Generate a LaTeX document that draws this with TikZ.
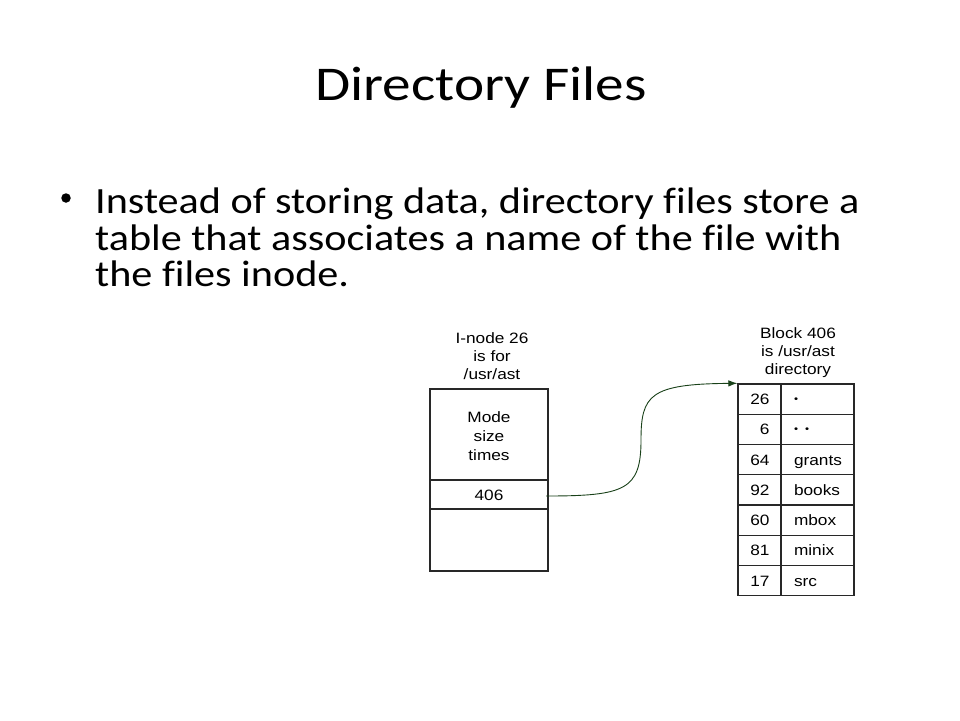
\documentclass[tikz,border=0pt]{standalone}
\usepackage{fontspec}
\newfontfamily\titlefont{Carlito}[FakeStretch=1.18,Ligatures=NoCommon]
\newfontfamily\bodyfont{Carlito}[FakeStretch=1.14,Ligatures=NoCommon]
\newfontfamily\figfont{Liberation Sans}[FakeStretch=1.15]
\usepackage{xcolor}
\usetikzlibrary{arrows.meta}
\definecolor{boxgray}{RGB}{40,40,40}
\definecolor{ptrgreen}{RGB}{25,65,25}
\newcommand{\dirdot}{\raisebox{2pt}{\fontsize{10pt}{12pt}\selectfont •}}
\tikzset{cell/.style={draw=boxgray,line width=1.4pt,inner sep=0pt,
            font=\figfont\fontsize{15pt}{18pt}\selectfont},
         numcell/.style={cell,minimum width=43pt,minimum height=30.25pt,
            text width=20pt,align=right,text height=11pt,text depth=0pt},
         namecell/.style={cell,minimum width=73pt,minimum height=30.25pt,
            text width=47pt,align=left,text height=11pt,text depth=0pt},
         caption/.style={font=\figfont\fontsize{15pt}{18pt}\selectfont,
            align=center,inner sep=0pt,anchor=north},
         body/.style={font=\bodyfont\fontsize{37pt}{44pt}\selectfont,
            inner sep=0pt,anchor=base west},
         ptr/.style={draw=ptrgreen,line width=0.9pt,-{Latex[length=9pt,width=6.5pt]}},
         }
\begin{document}
\begin{tikzpicture}[x=1pt,y=-1pt]
		\path[use as bounding box,fill=white] (0,0) rectangle (960,720);
		\node[font=\titlefont\fontsize{48.5pt}{58pt}\selectfont,anchor=base,inner sep=0pt] (title) at (481,100) {Directory Files};
		\node[circle,fill=black,inner sep=0pt,minimum size=9.5pt] (bullet) at (66,198) {};
		\node[body] (line1) at (95,213.3) {Instead of storing data, directory files store a};
		\node[body] (line2) at (95,250) {table that associates a name of the file with};
		\node[body] (line3) at (95,286.7) {the files inode.};
		\node[caption] (inodelabel) at (492,332) {I-node 26\\is for\\/usr/ast};
		\node[cell,minimum width=118pt,minimum height=91pt] (attrs) at (489,434.5) {};
		\node[cell,minimum width=118pt,minimum height=29pt,text height=11pt,text depth=0pt] (addr) at (489,494.5) {406};
		\node[cell,minimum width=118pt,minimum height=62pt] (rest) at (489,540) {};
		\node[caption,font=\figfont\fontsize{15pt}{19pt}\selectfont] (attrtext) at (489,411) {Mode\\size\\times};
		\node[caption] (blocklabel) at (798,327) {Block 406\\is /usr/ast\\directory};
		\foreach \num/\name [count=\i] in {26/\dirdot,6/\dirdot\hspace{7pt}\dirdot,64/grants,92/books,60/mbox,81/minix,17/src}{
			\node[numcell] (n\i) at ({759.5},{368.875+30.25*\i}) {\num};
			\node[namecell] (f\i) at ({817.5},{368.875+30.25*\i}) {\name};
		}
		\coordinate (ptrstart) at (546,496);
		\draw[ptr] (ptrstart) .. controls (625,496) and (641,490) .. (641,440)
			.. controls (641,395) and (650,384) .. (n1.north west);
\end{tikzpicture}
\end{document}
